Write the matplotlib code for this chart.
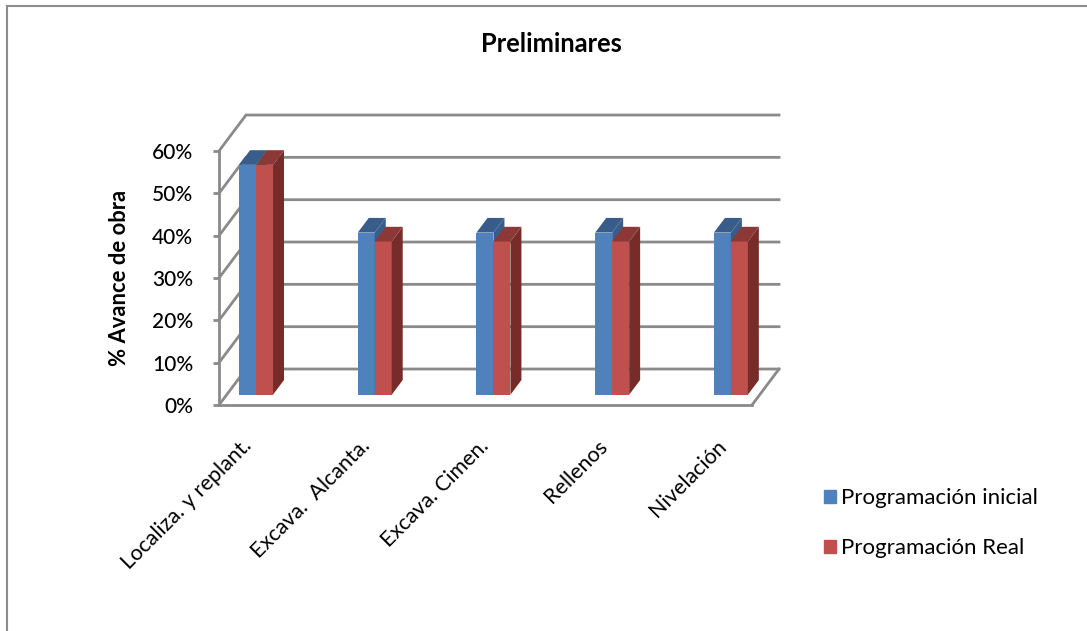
import matplotlib.pyplot as plt
from matplotlib.lines import Line2D
from matplotlib.patches import Patch
from matplotlib.transforms import ScaledTranslation

plt.rcParams['font.family'] = ['Lato', 'DejaVu Sans']

categorias = ["Localiza. y replant.", "Excava.  Alcanta.", "Excava. Cimen.", "Rellenos", "Nivelación"]
prog_inicial = [54.3, 38.3, 38.3, 38.3, 38.3]
prog_real = [54.3, 36.2, 36.2, 36.2, 36.2]
y_ticks = [0, 10, 20, 30, 40, 50, 60]
y_labels = ["0%", "10%", "20%", "30%", "40%", "50%", "60%"]

W, H = 1087, 631
GRID = "#8A8A8A"

# oblique depth of the fake 3D box, in data units
DX = 0.2275
DY = 8.5
BAR_W = 0.143
D0, D1 = 0.286, 0.693


def proy(x, y, d):
    return x + d * DX, y + d * DY


def barra_3d(ax, x0, x1, valor, frente, lado, tapa, z):
    # front face, right side, then the lid
    caras = [
        ([(x0, 0, D0), (x1, 0, D0), (x1, valor, D0), (x0, valor, D0)], frente),
        ([(x1, 0, D0), (x1, 0, D1), (x1, valor, D1), (x1, valor, D0)], lado),
        ([(x0, valor, D0), (x1, valor, D0), (x1, valor, D1), (x0, valor, D1)], tapa),
    ]
    for puntos, color in caras:
        xs, ys = zip(*[proy(*p) for p in puntos])
        ax.fill(xs, ys, color=color, lw=0, zorder=z, clip_on=False)


fig = plt.figure(figsize=(W / 100, H / 100), dpi=100)
ax = fig.add_axes([219 / W, 1 - 405 / H, (752 - 219) / W, (405 - 151) / H])
ax.set_xlim(-0.247, 4.243)
ax.set_ylim(0, 60)

# back wall and side wall lines
x_izq, x_der = ax.get_xlim()
for v in y_ticks:
    xs, ys = zip(proy(x_izq, v, 0), proy(x_izq, v, 1), proy(x_der, v, 1))
    ax.plot(xs, ys, color=GRID, lw=2, zorder=1, clip_on=False, solid_joinstyle="miter")
xs, ys = zip(proy(x_der, 0, 0), proy(x_der, 0, 1))
ax.plot(xs, ys, color=GRID, lw=2, zorder=1, clip_on=False)

for i in range(len(categorias)):
    barra_3d(ax, i - BAR_W, i, prog_inicial[i], "#4F81BD", "#385D8A", "#385D8A", 3)
    barra_3d(ax, i, i + BAR_W, prog_real[i], "#C0504D", "#772C2A", "#8C3836", 4)

for lado in ["top", "right"]:
    ax.spines[lado].set_visible(False)
for lado in ["left", "bottom"]:
    ax.spines[lado].set_color(GRID)
    ax.spines[lado].set_linewidth(2)
ax.patch.set_alpha(0)

ax.set_yticks(y_ticks)
ax.set_yticklabels(y_labels, fontsize=15, fontweight="medium", color="black")
ax.tick_params(axis="y", length=4.5, width=2, color=GRID, pad=14)
ax.set_xticks(range(len(categorias)))
ax.set_xticklabels(categorias, rotation=45, ha="right", rotation_mode="anchor", fontsize=15.5, color="black")
ax.tick_params(axis="x", length=0, pad=20)
desplaza = ScaledTranslation(-7 / 100, -3 / 100, fig.dpi_scale_trans)
for etiqueta in ax.get_xticklabels():
    etiqueta.set_transform(etiqueta.get_transform() + desplaza)

fig.text(120 / W, 1 - 278 / H, "% Avance de obra", rotation=90, ha="center", va="center",
         fontsize=15.8, fontweight="bold", color="black")
fig.text(551 / W, 1 - 44 / H, "Preliminares", ha="center", va="center",
         fontsize=18.4, fontweight="bold", color="black")

handles = [Patch(color="#4F81BD", label="Programación inicial"),
           Patch(color="#C0504D", label="Programación Real")]
fig.legend(handles=handles, loc="center left", bbox_to_anchor=(804 / W, 1 - 523.5 / H), frameon=False,
           fontsize=16, handlelength=0.55, handleheight=0.55, handletextpad=0.2, labelspacing=1.35,
           labelcolor="black")

# chart frame, only top and left edges show
fig.add_artist(Line2D([7 / W, 7 / W], [0, 1 - 6 / H], color="#8C8C8C", lw=1.5))
fig.add_artist(Line2D([7 / W, 1], [1 - 6 / H, 1 - 6 / H], color="#8C8C8C", lw=1.5))

fig.savefig("out.png", dpi=100)
